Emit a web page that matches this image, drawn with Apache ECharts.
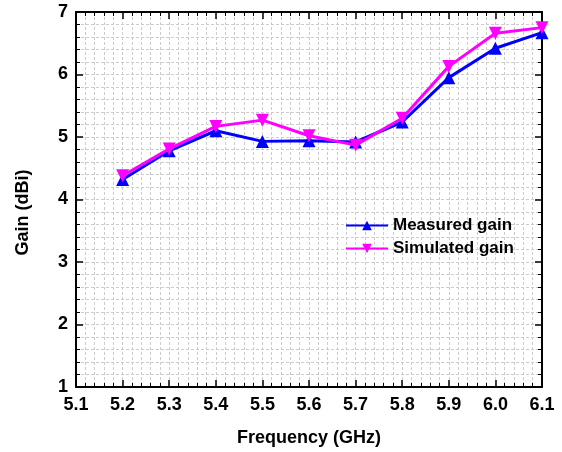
<!DOCTYPE html>
<html>
<head>
<meta charset="utf-8">
<script src="https://cdn.jsdelivr.net/npm/echarts@6/dist/echarts.min.js"></script>
<style>
  html, body { margin: 0; padding: 0; background: #fff; }
  #chart { width: 562px; height: 452px; }
</style>
</head>
<body>
<div id="chart"></div>
<script>
// data
var freq = [5.2, 5.3, 5.4, 5.5, 5.6, 5.7, 5.8, 5.9, 6.0, 6.1];
var measured = [4.32, 4.78, 5.10, 4.93, 4.94, 4.92, 5.24, 5.95, 6.42, 6.67];
var simulated = [4.38, 4.81, 5.17, 5.27, 5.02, 4.87, 5.30, 6.13, 6.66, 6.75];

var fontFam = '"Liberation Sans", Arial, sans-serif';

function pairs(xs, ys) {
  var out = [];
  for (var i = 0; i < xs.length; i++) { out.push([xs[i], ys[i]]); }
  return out;
}

var chart = echarts.init(document.getElementById('chart'));

// shared pieces for main and mirrored axes
var axLine = { show: true, onZero: false, lineStyle: { color: '#000', width: 2 } };
var tickIn = { show: true, inside: true, length: 7, lineStyle: { color: '#000', width: 1.5 } };
var minorIn = { show: true, splitNumber: 5, length: 4, lineStyle: { color: '#000', width: 1 } };
var gridDash = { show: true, lineStyle: { color: '#cccccc', type: [3, 2], width: 1 } };

var option = {
  backgroundColor: '#fff',
  animation: false,
  grid: { left: 76, right: 20, top: 12, bottom: 64 },
  legend: {
    orient: 'vertical',
    left: 340,
    top: 212,
    itemWidth: 42,
    itemHeight: 12,
    itemGap: 6,
    textStyle: { fontFamily: fontFam, fontWeight: 'bold', fontSize: 17, color: '#000' },
    data: ['Measured gain', 'Simulated gain']
  },
  xAxis: [{
    type: 'value',
    min: 5.1, max: 6.1, interval: 0.1,
    name: 'Frequency (GHz)',
    nameLocation: 'middle',
    nameGap: 42,
    nameTextStyle: { fontFamily: fontFam, fontWeight: 'bold', fontSize: 18, color: '#000' },
    axisLine: axLine,
    axisTick: tickIn,
    minorTick: minorIn,
    axisLabel: {
      margin: 9,
      fontFamily: fontFam, fontWeight: 'bold', fontSize: 18, color: '#000',
      formatter: function (v) { return v.toFixed(1); }
    },
    splitLine: gridDash,
    minorSplitLine: gridDash
  }, {
    type: 'value',
    position: 'top',
    min: 5.1, max: 6.1, interval: 0.1,
    axisLine: axLine,
    axisTick: tickIn,
    minorTick: minorIn,
    axisLabel: { show: false },
    splitLine: { show: false }
  }],
  yAxis: [{
    type: 'value',
    min: 1, max: 7, interval: 1,
    name: 'Gain (dBi)',
    nameLocation: 'middle',
    nameGap: 44,
    nameTextStyle: { fontFamily: fontFam, fontWeight: 'bold', fontSize: 18, color: '#000', padding: [0, 26, 0, 0] },
    axisLine: axLine,
    axisTick: tickIn,
    minorTick: minorIn,
    axisLabel: { margin: 8, fontFamily: fontFam, fontWeight: 'bold', fontSize: 18, color: '#000' },
    splitLine: gridDash,
    minorSplitLine: gridDash
  }, {
    type: 'value',
    position: 'right',
    min: 1, max: 7, interval: 1,
    axisLine: axLine,
    axisTick: tickIn,
    minorTick: minorIn,
    axisLabel: { show: false },
    splitLine: { show: false }
  }],
  series: [{
    name: 'Simulated gain',
    type: 'line',
    data: pairs(freq, simulated),
    symbol: 'triangle',
    symbolRotate: 180,
    symbolSize: 13,
    color: '#ff00ff',
    lineStyle: { width: 3, color: '#ff00ff' },
    itemStyle: { color: '#ff00ff' },
    z: 3
  }, {
    name: 'Measured gain',
    type: 'line',
    data: pairs(freq, measured),
    symbol: 'triangle',
    symbolSize: 13,
    color: '#0000ff',
    lineStyle: { width: 3, color: '#0000ff' },
    itemStyle: { color: '#0000ff' },
    z: 2
  }]
};

chart.setOption(option);
</script>
</body>
</html>
